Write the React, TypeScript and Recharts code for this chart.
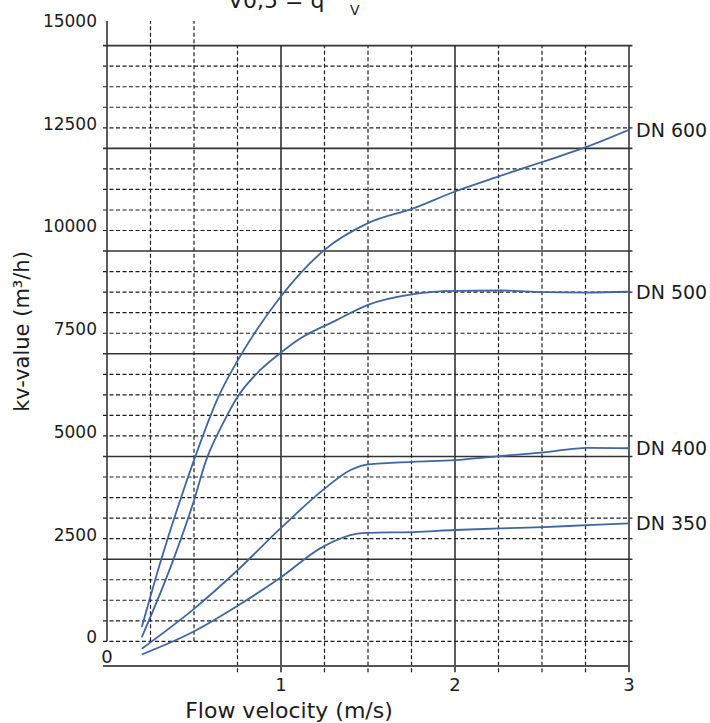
import { Line, LineChart, ReferenceLine, XAxis, YAxis } from "recharts";

const velocityTicks = [0, 1, 2, 3];
const kvTicks = [0, 2500, 5000, 7500, 10000, 12500, 15000];

// curves (m/s, m3/h)
const dn600Velocity = [0.2, 0.31, 0.42, 0.5, 0.64, 0.76, 0.86, 1.0, 1.25, 1.5, 1.76, 2.0, 2.26, 2.51, 2.76, 3.0];
const dn600Kv = [250, 1870, 3330, 4310, 5850, 6800, 7480, 8300, 9430, 10080, 10440, 10850, 11230, 11580, 11940, 12350];

const dn500Velocity = [0.2, 0.38, 0.5, 0.57, 0.66, 0.75, 0.88, 1.0, 1.11, 1.32, 1.5, 1.76, 2.0, 2.26, 2.51, 2.76, 3.0];
const dn500Kv = [0, 1870, 3330, 4310, 5150, 5850, 6500, 6930, 7270, 7720, 8090, 8350, 8430, 8440, 8400, 8390, 8410];

const dn400Velocity = [0.2, 0.5, 0.75, 1.0, 1.24, 1.4, 1.5, 1.76, 2.0, 2.26, 2.51, 2.76, 3.0];
const dn400Kv = [-280, 690, 1630, 2660, 3580, 4070, 4210, 4270, 4310, 4410, 4500, 4610, 4600];

const dn350Velocity = [0.2, 0.49, 0.76, 0.99, 1.24, 1.44, 1.5, 1.76, 2.0, 2.26, 2.51, 2.76, 3.0];
const dn350Kv = [-420, 120, 790, 1430, 2200, 2520, 2540, 2560, 2610, 2650, 2680, 2730, 2770];

const seriesNames = ["DN 600", "DN 500", "DN 400", "DN 350"];

// grid of the scanned sheet (offset from the tick labels)
const majorKvLines = [1900, 4400, 6900, 9400, 11900, 14400];
const minorKvLines = [
  -100, 400, 900, 1400, 2400, 2900, 3400, 3900, 4900, 5400, 5900, 6400,
  7400, 7900, 8400, 8900, 9900, 10400, 10900, 11400, 12400, 12900, 13400, 13900,
];
const tallVelocityLines = [0.25, 0.5];
const quarterVelocityLines = [0.75, 1.25, 1.5, 1.75, 2.25, 2.5, 2.75];
const majorVelocityLines = [1, 2, 3];

const KV_MIN = -700;
const KV_MAX = 15000;
const GRID_LEFT = -0.023;
const GRID_RIGHT = 3.02;
const GRID_TOP = 14400;
const TICK_BOTTOM = -850;
const AXIS_FLOOR = -100;

const font = '"DejaVu Sans", sans-serif';
const ink = "#1c1c1c";
const curveColor = "#3f66a2";

const toPoints = (v: number[], kv: number[]) => v.map((x, i) => ({ v: x, kv: kv[i] }));

const series = [
  toPoints(dn600Velocity, dn600Kv),
  toPoints(dn500Velocity, dn500Kv),
  toPoints(dn400Velocity, dn400Kv),
  toPoints(dn350Velocity, dn350Kv),
];

const renderXTick = (props: any) => {
  const { x, y, payload } = props;
  const isZero = payload.value === 0;
  return (
    <text
      x={x}
      y={isZero ? y - 18 : y + 10}
      textAnchor="middle"
      dominantBaseline="central"
      fill={ink}
      fontSize={18}
      fontFamily={font}
    >
      {payload.value}
    </text>
  );
};

const renderXTitle = (props: any) => {
  const vb = props.viewBox;
  return (
    <text
      x={vb.x + 182}
      y={vb.y + 44}
      textAnchor="middle"
      dominantBaseline="central"
      fill={ink}
      fontSize={22}
      fontFamily={font}
    >
      Flow velocity (m/s)
    </text>
  );
};

const renderYTitle = (props: any) => {
  const vb = props.viewBox;
  const cx = vb.x + 22;
  const cy = vb.y + vb.height / 2 - 12;
  return (
    <text
      x={cx}
      y={cy}
      transform={`rotate(-90 ${cx} ${cy})`}
      textAnchor="middle"
      dominantBaseline="central"
      fill={ink}
      fontSize={21}
      fontFamily={font}
    >
      kv-value (m³/h)
    </text>
  );
};

const endLabel = (name: string, lastIndex: number) => (props: any) => {
  if (props.index !== lastIndex) return null;
  return (
    <text
      x={props.x + 7}
      y={props.y}
      dominantBaseline="central"
      fill={ink}
      fontSize={19}
      fontFamily={font}
    >
      {name}
    </text>
  );
};

export default function App() {
  return (
    <div style={{ position: "absolute", left: 0, top: 0, width: 710, height: 723, background: "#fff" }}>
      <svg width={710} height={30} style={{ position: "absolute", left: 0, top: 0 }}>
        <text x={228} y={8} fontSize={22} fontFamily={font} fill={ink}>
          V0,5 = q
        </text>
        <text x={350} y={15} fontSize={14} fontFamily={font} fill={ink}>
          V
        </text>
      </svg>
      <LineChart
        width={710}
        height={723}
        margin={{ top: 21, right: 81, bottom: 0, left: 0 }}
        style={{ position: "absolute", left: 0, top: 0 }}
      >
        <XAxis
          type="number"
          dataKey="v"
          domain={[0, 3]}
          ticks={velocityTicks}
          interval={0}
          allowDataOverflow
          axisLine={false}
          tickLine={false}
          height={57}
          tick={renderXTick}
          label={renderXTitle}
        />
        <YAxis
          type="number"
          domain={[KV_MIN, KV_MAX]}
          ticks={kvTicks}
          interval={0}
          allowDataOverflow
          axisLine={false}
          tickLine={false}
          width={107}
          tickMargin={4}
          tick={{ fill: ink, fontSize: 17, fontFamily: font }}
          label={renderYTitle}
        />

        {minorKvLines.map((kv) => (
          <ReferenceLine
            key={`hm${kv}`}
            segment={[{ x: GRID_LEFT, y: kv }, { x: GRID_RIGHT, y: kv }]}
            stroke={ink}
            strokeWidth={1.2}
            strokeDasharray="4 2.5"
            ifOverflow="visible"
          />
        ))}
        {majorKvLines.map((kv) => (
          <ReferenceLine
            key={`hM${kv}`}
            segment={[{ x: GRID_LEFT, y: kv }, { x: GRID_RIGHT, y: kv }]}
            stroke="#333"
            strokeWidth={1.6}
            ifOverflow="visible"
          />
        ))}
        {tallVelocityLines.map((v) => (
          <ReferenceLine
            key={`vt${v}`}
            segment={[{ x: v, y: AXIS_FLOOR }, { x: v, y: KV_MAX }]}
            stroke={ink}
            strokeWidth={1.2}
            strokeDasharray="4 2.5"
            ifOverflow="visible"
          />
        ))}
        {quarterVelocityLines.map((v) => (
          <ReferenceLine
            key={`vq${v}`}
            segment={[{ x: v, y: TICK_BOTTOM }, { x: v, y: GRID_TOP }]}
            stroke={ink}
            strokeWidth={1.2}
            strokeDasharray="4 2.5"
            ifOverflow="visible"
          />
        ))}
        {majorVelocityLines.map((v) => (
          <ReferenceLine
            key={`vM${v}`}
            segment={[{ x: v, y: TICK_BOTTOM }, { x: v, y: GRID_TOP }]}
            stroke="#333"
            strokeWidth={1.6}
            ifOverflow="visible"
          />
        ))}
        <ReferenceLine
          segment={[{ x: 0, y: AXIS_FLOOR }, { x: 0, y: KV_MAX }]}
          stroke="#333"
          strokeWidth={1.6}
          ifOverflow="visible"
        />
        <ReferenceLine
          segment={[{ x: GRID_LEFT, y: KV_MIN }, { x: 3.005, y: KV_MIN }]}
          stroke="#555"
          strokeWidth={2}
          ifOverflow="visible"
        />

        {series.map((points, i) => (
          <Line
            key={seriesNames[i]}
            data={points}
            dataKey="kv"
            type="monotone"
            stroke={curveColor}
            strokeWidth={1.8}
            dot={false}
            activeDot={false}
            isAnimationActive={false}
            label={endLabel(seriesNames[i], points.length - 1)}
          />
        ))}
      </LineChart>
    </div>
  );
}
